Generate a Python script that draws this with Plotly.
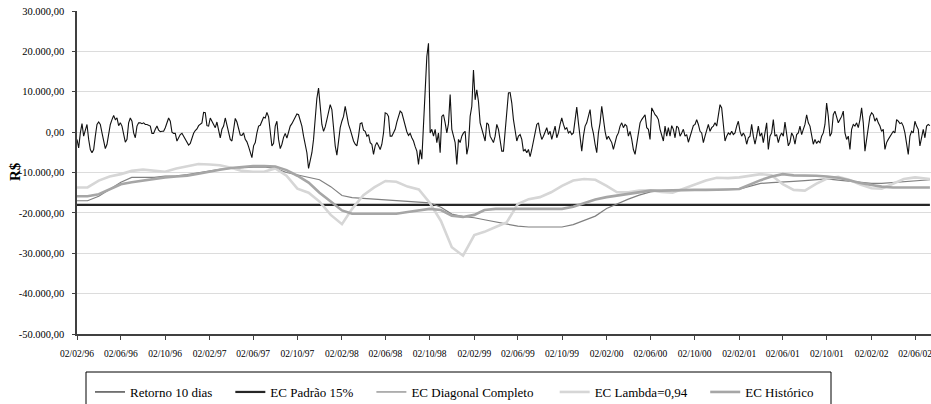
import pandas as pd
import plotly.graph_objects as go

# ---------------- data ----------------
# Retorno 10 dias, thousand R$, evenly spaced samples 02/02/96 .. 13/07/02
ret_k = [
    -1.8, -3.9, -0.2, 2.1, -1.0, 0.7, 1.9, -1.8, -4.3, -5.1,
    -4.3, -1.0, 1.9, 2.5, 1.9, -0.2, -2.6, -4.1, -3.0, 0.0,
    1.9, 3.1, 4.1, 3.1, 3.5, 1.6, 2.3, 1.5, -1.0, -2.5,
    -1.8, 2.3, 3.5, 2.7, -0.2, -1.4, 1.5, 2.3, 2.3, 2.1,
    2.3, 1.9, 1.9, 1.6, 1.5, -0.3, -0.3, 0.7, 1.5, 0.5,
    0.1, 0.2, 0.2, 1.1, 2.3, 3.5, 2.7, 0.0, -0.3, -0.3,
    -2.2, -1.4, -0.6, -0.3, -1.1, -2.0, -2.6, -3.2, -2.8, -1.5,
    -0.3, 0.4, 0.8, 1.6, 1.9, 2.3, 4.9, 4.8, 1.6, 1.5,
    3.5, 2.7, 1.5, 1.1, 2.5, 0.2,
    -1.4, 0.7, 1.5, 3.5, 1.9, -0.2, -1.8, -2.2, 1.1, 3.4,
    2.5, 0.7, -0.7, -0.8, -0.2, -1.8, -2.4, -3.6, -5.1, -6.3,
    -3.4, -2.6, -0.2, 1.5, 1.7, 2.7, 3.7, 3.5, 4.9, 3.8,
    0.7, -3.4, -2.8, 1.5, 2.7, -1.8, -4.1, -3.0, -1.3, -0.3,
    -1.5, -0.2, 1.5, 2.1, 3.0, 3.7, 4.5, 4.3, 3.1, 1.5,
    -1.0, -2.8, -5.1, -9.0, -7.1, -5.1, -1.8, 4.8, 8.4, 10.9,
    5.6, 1.9, 0.2, 1.3, 3.1, 4.6, 6.8, 5.6, 0.7, -3.4,
    -5.7, -1.8, 1.1, 2.7, 3.9, 6.4, 3.5, 1.9, 0.7, -1.0,
    -2.2, -3.0, -3.4, -1.0, 2.1, 2.3, 0.5,
    0.2, -1.0, -0.6, -2.6, -3.0, -5.5, -3.4, -2.6, -3.4, -4.3,
    -3.0, -0.2, 4.8, 4.6, 3.9, -1.0, -1.0, -0.3, 0.7, 2.5,
    3.8, 5.2, 4.8, 3.1, 1.6, 0.1, -0.8, -0.3, -1.4, -2.2,
    -3.6, -4.7, -8.0, -4.3, -6.7, 3.1, 9.3, 18.7, 22.0, -0.2,
    0.7, -1.0, 0.7, -2.6, -0.2, -5.1, 3.9, 4.3, 2.3, -0.2,
    2.1, 9.3, 0.7, -1.4, -2.6, -8.0, -1.8, -2.6, -1.0, -0.2,
    0.2, -5.5, -3.4, 3.9, 6.4, 15.4, 8.0, 10.5, 7.6, 2.3,
    0.7, -1.0, -2.2, 2.3, 1.9, -1.0, -1.8, -2.6, -1.0, 1.9,
    0.7, -1.8, -4.7, -4.7, 0.7, 6.4, 9.7,
    9.8, 7.2, 3.1, -0.2, -2.2, -1.0, -0.6, -1.8, -4.7, -4.3,
    -5.1, -4.3, -6.1, -4.3, -2.6, -0.2, 1.9, 2.3, -0.2, -1.8,
    -1.0, 0.2, 1.1, -0.6, 0.2, -1.8, -0.2, 1.5, -1.4, -0.2,
    1.9, 3.5, 1.9, 0.7, 1.1, -0.2, 0.2, -0.6, -0.2, 3.9,
    6.2, 2.3, -1.0, -4.7, -1.0, 1.5, 2.3, 3.9, 5.6, 1.5,
    -0.3, -3.0, -5.1, -0.2, 2.3, 6.4, 3.1, 0.2, -1.8, -1.0,
    -1.8, -2.6, -4.3, -2.6, -1.0, -0.2, 1.5, 2.3, 1.1, 1.9,
    1.5, -1.0, 0.2, -1.8, -4.3, -5.5, -2.6, -0.2, 2.3, 3.1,
    3.9, 4.3, 1.1, 0.7, -1.8, 6.0, 5.2,
    4.3, 3.9, 3.1, 0.7, -1.0, -2.2, 1.5, -1.0, 1.1, -1.0,
    1.6, 0.7, -1.4, 1.5, 1.1, -1.0, -0.2, 0.7, -1.0, -0.6,
    -2.5, -1.0, 0.2, 1.6, 1.9, 3.1, 1.9, 0.2, -0.2, -2.6,
    -1.0, 0.2, 1.9, 0.2, 1.1, 1.5, 2.3, 1.5, 3.9, 6.8,
    6.0, 1.5, -2.2, -1.0, -0.2, -0.6, 0.2, -0.6, -0.2, 1.5,
    2.7, 0.2, -1.0, -0.2, -1.0, -3.0, -1.4, -1.0, 1.9, -1.0,
    -3.0, -1.0, 1.5, -1.0, -0.2, -2.6, -0.2, 2.3, -4.3, -1.0,
    -0.2, 3.1, -1.0, -0.6, -2.6, -1.0, -0.2, -1.0, 2.5, -1.0,
    -3.4, -2.5, -0.2, -1.0, -3.0, -0.6, -0.2,
    1.5, -0.6, 0.7, 1.9, 4.3, 2.3, 1.5, -1.0, -3.0, -1.8,
    -2.8, -2.2, -2.6, -1.0, -0.2, 1.9, 7.2, 3.9, -1.0, -0.2,
    4.3, 5.2, 3.5, 2.3, 3.1, 3.9, 5.2, -0.2, -1.8, -1.0,
    -4.3, 0.7, 1.9, 1.5, 2.3, 1.1, 3.1, 6.0, 2.3, -4.7,
    -1.8, 1.5, 3.9, 4.8, 4.3, 2.7, 3.5, 2.3, 1.5, 0.2,
    0.7, -4.3, -2.6, -1.8, -1.0, -0.2, 0.2, -0.2, 3.1, 2.7,
    2.1, 2.3, 1.5, -0.2, -2.6, -5.5, -1.0, 0.2, -0.2, 2.7,
    1.5, 0.7, -3.4, -1.0, 0.7, -1.4, 1.5, 1.9, 1.6,
]
ret = [v * 1000 for v in ret_k]
ret_start, ret_end = "1996-02-02", "2002-07-13"

# EC series: monthly readings from 02/02/96 to 02/07/02, plus a final reading on 13/07/02
ec_lambda = [
    -13700, -13700, -12000, -11000, -10400, -9600, -9300, -9600, -9800, -9000,
    -8500, -7900, -8000, -8200, -8800, -9600, -9800, -9800, -9000, -10800,
    -14000, -15000, -17200, -20500, -22800, -19000, -15600, -13700, -12100, -12300,
    -13500, -14200, -17500, -22000, -28500, -30600, -25500, -24700, -23500, -22400,
    -17800, -16600, -16100, -14900, -13300, -12000, -11600, -11800, -13300, -14900,
    -14900, -14500, -14400, -14800, -15000, -14000, -12900, -12000, -11300, -11400,
    -11200, -10900, -10400, -10700, -12900, -14300, -14500, -12800, -11500, -11100,
    -11800, -13000, -13900, -14000, -12700, -11600, -11200, -11500, -11600,
]
ec_diag = [
    -17000, -17000, -15900, -14100, -12400, -11200, -11200, -11200, -10900, -10800,
    -10500, -10100, -9600, -9200, -9000, -8800, -8700, -8600, -9000, -10000,
    -10600, -11300, -11800, -13500, -15700, -16200, -16400, -16600, -16800, -17000,
    -17100, -17300, -17500, -18600, -20300, -20900, -21200, -21700, -22200, -22800,
    -23300, -23500, -23500, -23500, -23500, -22900, -21900, -20800, -18900, -17700,
    -16600, -15600, -14800, -14500, -14400, -14300, -14300, -14300, -14300, -14200,
    -14100, -13400, -12700, -12500, -12400, -12200, -12000, -11800, -11600, -11900,
    -12200, -12500, -12700, -12700, -12500, -12300, -12100, -11900, -11800,
]
ec_hist = [
    -15900, -15900, -15400, -14100, -12900, -12400, -12000, -11500, -11200, -11000,
    -10800, -10300, -9700, -9300, -8900, -8600, -8400, -8400, -8500, -9400,
    -10800, -12500, -15000, -17200, -19400, -20200, -20200, -20200, -20200, -20200,
    -19800, -19400, -19000, -19300, -20700, -21000, -20500, -19300, -19000, -19000,
    -19000, -19000, -19000, -19000, -19000, -18500, -17600, -16700, -16100, -15700,
    -15300, -14900, -14500, -14500, -14400, -14300, -14300, -14300, -14300, -14200,
    -14100, -13000, -11900, -11000, -10400, -10700, -10700, -10800, -11000, -11300,
    -11900, -12600, -13100, -13500, -13700, -13700, -13700, -13700, -13700,
]
ec_padrao_value = -18000

x_tick_dates = [
    "1996-02-02", "1996-06-02", "1996-10-02", "1997-02-02", "1997-06-02",
    "1997-10-02", "1998-02-02", "1998-06-02", "1998-10-02", "1999-02-02",
    "1999-06-02", "1999-10-02", "2000-02-02", "2000-06-02", "2000-10-02",
    "2001-02-02", "2001-06-02", "2001-10-02", "2002-02-02", "2002-06-02",
]
x_tick_labels = [
    "02/02/96", "02/06/96", "02/10/96", "02/02/97", "02/06/97",
    "02/10/97", "02/02/98", "02/06/98", "02/10/98", "02/02/99",
    "02/06/99", "02/10/99", "02/02/00", "02/06/00", "02/10/00",
    "02/02/01", "02/06/01", "02/10/01", "02/02/02", "02/06/02",
]
y_tick_vals = [-50000, -40000, -30000, -20000, -10000, 0, 10000, 20000, 30000]
y_tick_labels = ["-50.000,00", "-40.000,00", "-30.000,00", "-20.000,00", "-10.000,00",
                 "0,00", "10.000,00", "20.000,00", "30.000,00"]
y_title = "R$"

names = ["Retorno 10 dias", "EC Padrão 15%", "EC Diagonal Completo",
         "EC Lambda=0,94", "EC Histórico"]

# ---------------- figure ----------------
ret_dates = pd.date_range(ret_start, ret_end, periods=len(ret))
ec_dates = pd.date_range("1996-02-02", periods=len(ec_lambda) - 1,
                         freq=pd.DateOffset(months=1)).append(pd.DatetimeIndex([ret_end]))
ec_padrao = [ec_padrao_value] * len(ec_dates)

FONT = "Liberation Serif, Times New Roman, serif"
NB = "\u00a0"  # extra spacing between legend entries
pads = [NB * 4, NB * 4, NB * 5, NB * 4, ""]

fig = go.Figure()
fig.add_trace(go.Scatter(x=ret_dates, y=ret, mode="lines", name=names[0] + pads[0],
                         line=dict(color="#111111", width=1.1)))
fig.add_trace(go.Scatter(x=ec_dates, y=ec_padrao, mode="lines", name=names[1] + pads[1],
                         line=dict(color="#262626", width=2.2)))
fig.add_trace(go.Scatter(x=ec_dates, y=ec_diag, mode="lines", name=names[2] + pads[2],
                         line=dict(color="#808080", width=1.2)))
fig.add_trace(go.Scatter(x=ec_dates, y=ec_lambda, mode="lines", name=names[3] + pads[3],
                         line=dict(color="#d6d6d6", width=2.6)))
fig.add_trace(go.Scatter(x=ec_dates, y=ec_hist, mode="lines", name=names[4] + pads[4],
                         line=dict(color="#a6a6a6", width=2.6)))

W, H = 931, 404
AX_L, AX_T, AX_B = 77, 11, 334          # plot-area edges in window pixels
L, T, B, R = AX_L, AX_T, H - AX_B, 0
pw, ph = W - AX_L, AX_B - AX_T

def px_x(p):
    return (p - AX_L) / pw

def px_y(p):
    return (AX_B - p) / ph

fig.update_layout(
    width=W, height=H,
    margin=dict(l=L, r=R, t=T, b=B, autoexpand=False),
    paper_bgcolor="white", plot_bgcolor="white",
    font=dict(family=FONT, color="#000000"),
    showlegend=True,
    legend=dict(orientation="h", x=px_x(90), xanchor="left", y=px_y(377), yanchor="top",
                font=dict(family=FONT, size=13, color="#000000"),
                bgcolor="rgba(0,0,0,0)", borderwidth=0, tracegroupgap=0),
    shapes=[dict(type="rect", xref="paper", yref="paper",
                 x0=px_x(86), x1=px_x(831), y0=px_y(372), y1=px_y(420),
                 line=dict(color="#000000", width=1), fillcolor="rgba(0,0,0,0)",
                 layer="above")],
    annotations=[dict(text="<b>" + y_title + "</b>", xref="paper", yref="paper",
                      x=px_x(15), y=px_y(172), xanchor="center", yanchor="middle",
                      textangle=-90, showarrow=False,
                      font=dict(family=FONT, size=15, color="#000000"))],
)
fig.update_xaxes(
    type="date", range=["1996-02-02", "2002-07-16"], automargin=False,
    tickmode="array", tickvals=x_tick_dates, ticktext=x_tick_labels,
    tickfont=dict(family=FONT, size=9.5, color="#000000"),
    ticks="outside", ticklen=4, tickcolor="#404040", tickwidth=1,
    ticklabelstandoff=6, ticklabeloverflow="allow",
    showline=True, linecolor="#404040", linewidth=1.5,
    showgrid=False, zeroline=False,
)
fig.update_yaxes(
    range=[-50000, 30000], automargin=False,
    tickmode="array", tickvals=y_tick_vals, ticktext=y_tick_labels,
    tickfont=dict(family=FONT, size=10.5, color="#000000"),
    ticks="outside", ticklen=3, tickcolor="#404040", tickwidth=1,
    ticklabelstandoff=6, ticklabeloverflow="allow",
    showline=True, linecolor="#404040", linewidth=1.5,
    showgrid=True, gridcolor="#dcdcdc", gridwidth=1,
    zeroline=False,
)

# the page body has a default 8 px margin; remove it so the figure fills the window
fig.write_html("out.html", config={"displayModeBar": False},
               post_script="document.body.style.margin='0px';")
